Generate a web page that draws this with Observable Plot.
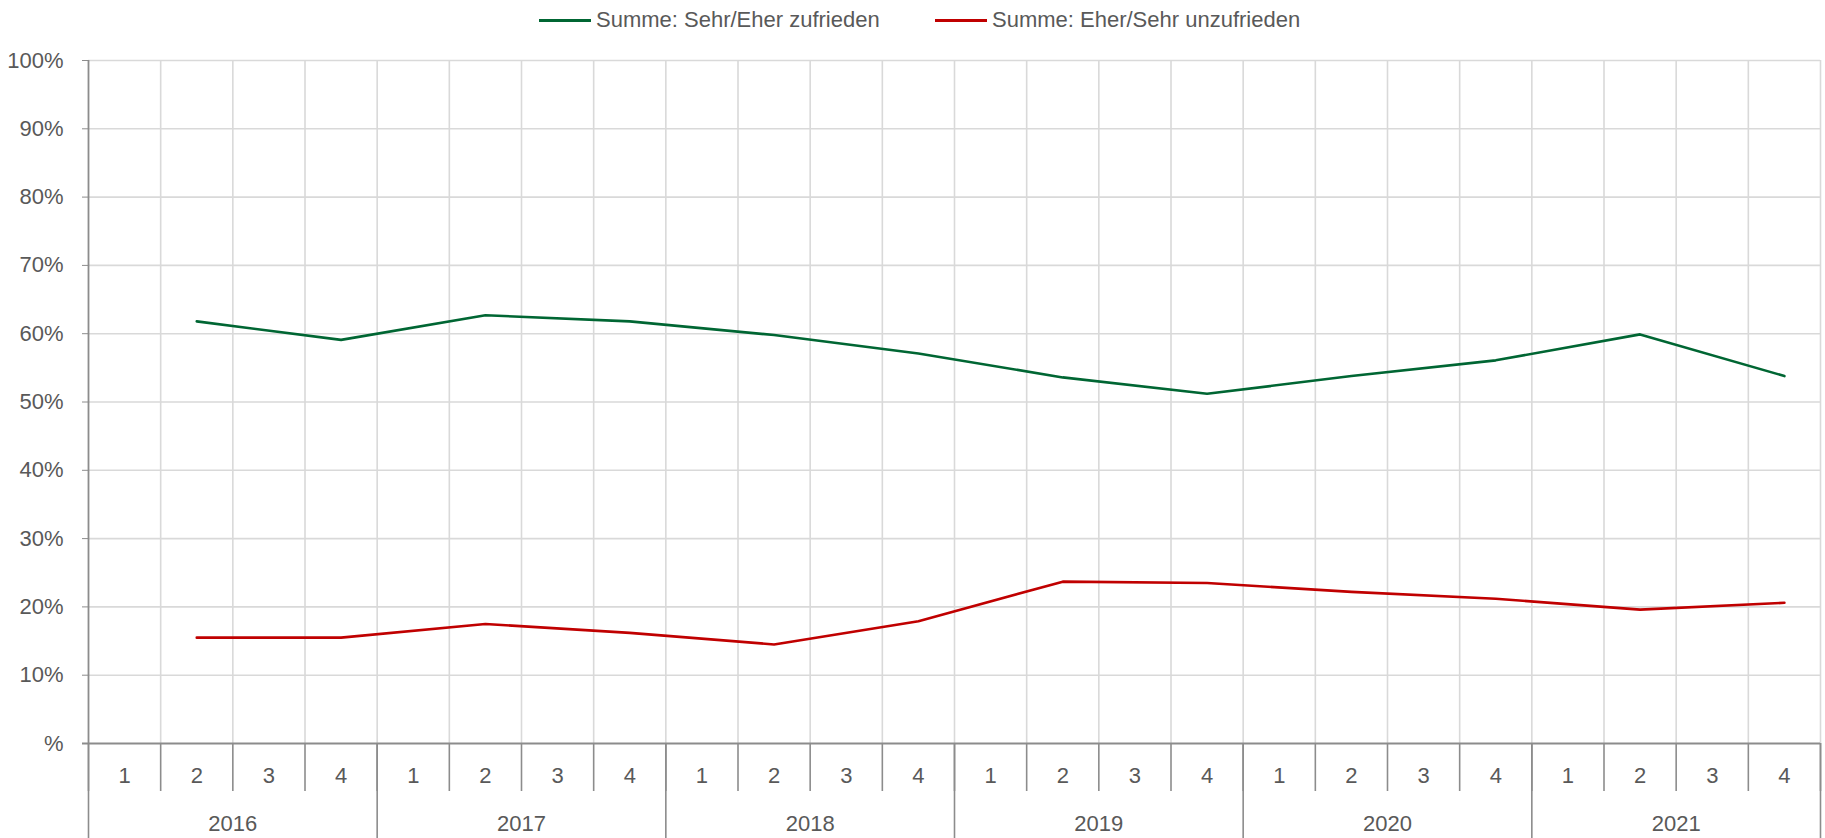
<!DOCTYPE html>
<html>
<head>
<meta charset="utf-8">
<script src="https://cdn.jsdelivr.net/npm/d3@7"></script>
<script src="https://cdn.jsdelivr.net/npm/@observablehq/plot@0.6"></script>
<style>
  html, body { margin: 0; padding: 0; background: #fff; }
  body { width: 1825px; height: 838px; overflow: hidden; font-family: "Liberation Sans", Arial, sans-serif; }
  #legend { position: relative; height: 40px; color: #595959; font-size: 22px; }
  .item { position: absolute; top: 5px; display: flex; align-items: center; height: 30px; }
  .swatch { width: 52px; height: 3px; margin-right: 5px; }
  #chart svg { display: block; }
</style>
</head>
<body>
<div id="legend"></div>
<div id="chart"></div>
<script>
// ---- data ----
const years = [2016, 2017, 2018, 2019, 2020, 2021];
const quarterLabels = ["1", "2", "3", "4"];
const measuredQuarters = [2, 4];
const seriesNames = ["Summe: Sehr/Eher zufrieden", "Summe: Eher/Sehr unzufrieden"];
const seriesColors = ["#006633", "#c00000"];
// values at Q2 and Q4 of each year, in %
const zufrieden   = [61.8, 59.1, 62.7, 61.8, 59.8, 57.1, 53.6, 51.2, 53.8, 56.1, 59.9, 53.8];
const unzufrieden = [15.5, 15.5, 17.5, 16.2, 14.5, 17.9, 23.7, 23.5, 22.2, 21.2, 19.6, 20.6];
const yTicks = [0, 10, 20, 30, 40, 50, 60, 70, 80, 90, 100];

// ---- table ----
const rows = [];
[zufrieden, unzufrieden].forEach((vals, s) => {
  vals.forEach((v, i) => {
    const yi = Math.floor(i / measuredQuarters.length);
    const q = measuredQuarters[i % measuredQuarters.length];
    rows.push({series: seriesNames[s], pos: yi * 4 + (q - 1) + 0.5, value: v});
  });
});
const nQ = years.length * quarterLabels.length;

// ---- legend ----
const legend = document.getElementById("legend");
const lefts = [539, 935];
seriesNames.forEach((n, i) => {
  const it = document.createElement("div");
  it.className = "item";
  it.style.left = lefts[i] + "px";
  it.innerHTML = `<div class="swatch" style="background:${seriesColors[i]}"></div><span>${n}</span>`;
  legend.appendChild(it);
});

// ---- chart ----
const axisColor = "#8c8c8c";
const textColor = "#595959";
const font = 22;
const chart = Plot.plot({
  width: 1825,
  height: 798,
  marginTop: 20,
  marginBottom: 95,
  marginLeft: 88,
  marginRight: 5,
  style: {fontFamily: '"Liberation Sans", Arial, sans-serif', fontSize: font + "px", color: textColor, background: "#fff"},
  x: {type: "linear", domain: [0, nQ], axis: null},
  y: {type: "linear", domain: [0, 100], axis: null},
  color: {domain: seriesNames, range: seriesColors},
  marks: [
    Plot.gridY(yTicks.slice(1), {stroke: "#d9d9d9", strokeOpacity: 1, strokeWidth: 1.6}),
    Plot.gridX(d3.range(1, nQ + 1), {stroke: "#d9d9d9", strokeOpacity: 1, strokeWidth: 1.6}),
    Plot.axisY(yTicks, {label: null, tickSize: 6, tickPadding: 19, stroke: axisColor, fill: textColor, fontSize: font,
      tickFormat: d => d === 0 ? "%" : d + "%"}),
    // quarter separators
    Plot.axisX(d3.range(0, nQ + 1), {label: null, tickSize: 48, stroke: axisColor, strokeWidth: 1.6, tickFormat: () => ""}),
    // year separators
    Plot.axisX(d3.range(0, nQ + 1, 4), {label: null, tickSize: 95, stroke: axisColor, strokeWidth: 1.6, tickFormat: () => ""}),
    // quarter labels
    Plot.axisX(d3.range(nQ).map(i => i + 0.5), {label: null, tickSize: 0, tickPadding: 24, fill: textColor, fontSize: font,
      tickFormat: v => quarterLabels[Math.floor(v) % 4]}),
    // year labels
    Plot.axisX(years.map((y, i) => i * 4 + 2), {label: null, tickSize: 0, tickPadding: 72, fill: textColor, fontSize: font,
      tickFormat: v => String(years[(v - 2) / 4])}),
    Plot.ruleX([0], {stroke: axisColor, strokeWidth: 1.8}),
    Plot.ruleY([0], {stroke: axisColor, strokeWidth: 2, insetLeft: -6}),
    Plot.line(rows, {x: "pos", y: "value", z: "series", stroke: "series", strokeWidth: 2.6, curve: "linear"})
  ]
});
document.getElementById("chart").appendChild(chart);
</script>
</body>
</html>
